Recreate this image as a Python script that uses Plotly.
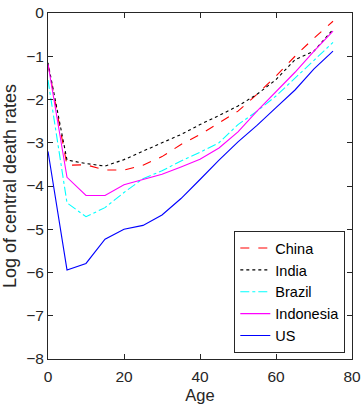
import plotly.graph_objects as go

ages = [0, 5, 10, 15, 20, 25, 30, 35, 40, 45, 50, 55, 60, 65, 70, 75]
china = [-1.18, -3.52, -3.51, -3.63, -3.63, -3.52, -3.32, -3.04, -2.81, -2.54, -2.27, -1.88, -1.46, -1.0, -0.58, -0.19]
india = [-1.15, -3.40, -3.48, -3.54, -3.39, -3.19, -3.0, -2.81, -2.58, -2.37, -2.15, -1.88, -1.54, -1.08, -0.88, -0.38]
brazil = [-1.55, -4.39, -4.71, -4.50, -4.15, -3.83, -3.65, -3.42, -3.22, -3.0, -2.58, -2.27, -1.92, -1.50, -1.08, -0.68]
indonesia = [-1.18, -3.80, -4.22, -4.22, -3.97, -3.85, -3.73, -3.56, -3.38, -3.12, -2.75, -2.27, -1.82, -1.37, -0.88, -0.42]
us = [-3.20, -5.94, -5.79, -5.23, -5.0, -4.91, -4.67, -4.29, -3.85, -3.40, -2.98, -2.60, -2.19, -1.78, -1.29, -0.88]

series = [
    ("China", china, "red", "dash"),
    ("India", india, "black", "dot"),
    ("Brazil", brazil, "cyan", "dashdot"),
    ("Indonesia", indonesia, "magenta", "solid"),
    ("US", us, "blue", "solid"),
]

fig = go.Figure()
for name, vals, col, dash in series:
    fig.add_trace(go.Scatter(x=ages, y=vals, mode="lines", name=name,
                             line=dict(color=col, dash=dash, width=1.1)))

axis_common = dict(showline=True, linecolor="#262626", linewidth=1, mirror="ticks",
                   ticks="inside", ticklen=5, tickcolor="#262626", showgrid=False,
                   zeroline=False, automargin=False,
                   tickfont=dict(size=15.5, color="#262626"))

fig.update_layout(
    width=362, height=404,
    margin=dict(l=48, r=10, t=13, b=45),
    paper_bgcolor="white", plot_bgcolor="white",
    font=dict(family="Liberation Sans, Arial, sans-serif", color="#262626"),
    xaxis=dict(range=[0, 80], tickvals=[0, 20, 40, 60, 80], ticklabelstandoff=3,
               title=dict(text="Age", standoff=6, font=dict(size=16.5, color="#262626")),
               **axis_common),
    yaxis=dict(range=[-8, 0], tickvals=[0, -1, -2, -3, -4, -5, -6, -7, -8],
               title=dict(text="Log of central death rates", standoff=4,
                          font=dict(size=18, color="#262626")),
               **axis_common),
    legend=dict(x=0.978, y=0.017, xanchor="right", yanchor="bottom",
                bordercolor="#262626", borderwidth=1, bgcolor="white",
                font=dict(size=14.5, color="black"), itemwidth=30, tracegroupgap=0),
)

fig.write_html("out.html")
